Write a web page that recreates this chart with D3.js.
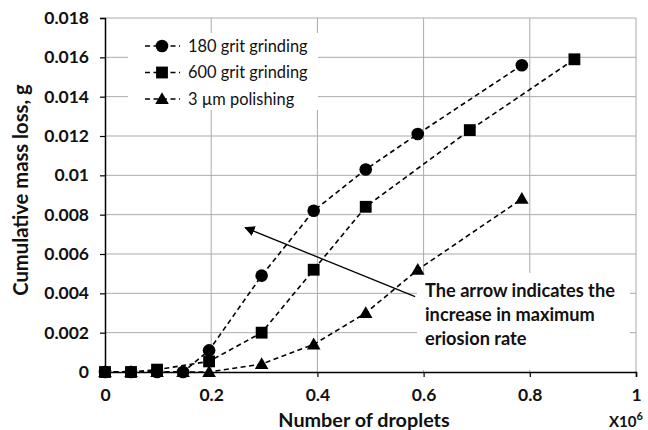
<!DOCTYPE html>
<html><head><meta charset="utf-8">
<script src="https://cdn.jsdelivr.net/npm/d3@7"></script>
<style>
html,body{margin:0;padding:0;background:#fff;}
text{font-family:Lato,"Open Sans",sans-serif;fill:#111;}
</style></head>
<body><svg id="c" width="648" height="430"></svg>
<script>
// Data (x in millions of droplets, y in g)
const x180 = [0, 0.049, 0.098, 0.147, 0.196, 0.295, 0.393, 0.491, 0.589, 0.785];
const y180 = [0, 0, 0, 0, 0.0011, 0.0049, 0.0082, 0.0103, 0.0121, 0.0156];
const x600 = [0, 0.049, 0.098, 0.196, 0.295, 0.393, 0.491, 0.687, 0.884];
const y600 = [0, 0, 0.00012, 0.00054, 0.002, 0.0052, 0.0084, 0.0123, 0.0159];
const xPol = [0, 0.049, 0.098, 0.147, 0.196, 0.295, 0.393, 0.491, 0.589, 0.785];
const yPol = [0, 0, 0, 0, 0, 0.0004, 0.0014, 0.003, 0.0052, 0.0088];
const seriesNames = ["180 grit grinding", "600 grit grinding", "3 \u00b5m polishing"];
const xTicks = [0, 0.2, 0.4, 0.6, 0.8, 1];
const yTicks = [0, 0.002, 0.004, 0.006, 0.008, 0.01, 0.012, 0.014, 0.016, 0.018];
const arrowFrom = [0.584, 0.00383];
const arrowTo = [0.264, 0.00734];
const noteLines = ["The arrow indicates the", "increase in maximum", "eriosion rate"];

const svg = d3.select("#c");
const L = 105, R = 636, T = 18, B = 372;
const x = d3.scaleLinear().domain([0, 1]).range([L, R]);
const y = d3.scaleLinear().domain([0, 0.018]).range([B, T]);

// grid
const g = svg.append("g");
g.selectAll("line.h").data(yTicks.slice(1)).join("line")
  .attr("x1", L).attr("x2", R).attr("y1", d => y(d)).attr("y2", d => y(d))
  .attr("stroke", "#aaa").attr("stroke-width", 1);
g.selectAll("line.v").data(xTicks.slice(1)).join("line")
  .attr("y1", T).attr("y2", B).attr("x1", d => x(d)).attr("x2", d => x(d))
  .attr("stroke", "#aaa").attr("stroke-width", 1);

// white boxes (legend, note)
svg.append("rect").attr("x", 128).attr("y", 33).attr("width", 190).attr("height", 77).attr("fill", "#fff");
svg.append("rect").attr("x", 417).attr("y", 273).attr("width", 213).attr("height", 97).attr("fill", "#fff");

// axes
const xAxis = d3.axisBottom(x).tickValues(xTicks).tickSize(5).tickFormat(d3.format("~g"));
const yAxis = d3.axisLeft(y).tickValues(yTicks).tickSize(5).tickFormat(d => d === 0 ? "0" : d3.format("~g")(d));
const gx = svg.append("g").attr("transform", `translate(0,${B})`).call(xAxis);
const gy = svg.append("g").attr("transform", `translate(${L},0)`).call(yAxis);
[gx, gy].forEach(a => {
  a.select(".domain").attr("stroke", "#000").attr("stroke-width", 1.5);
  a.selectAll(".tick line").attr("stroke", "#000").attr("stroke-width", 1.2);
  a.selectAll(".tick text").attr("font-family", "Lato, sans-serif").attr("font-weight", "bold")
    .attr("font-size", 17.5).attr("fill", "#111");
});
gx.selectAll(".tick text").attr("dy", "0.71em").attr("y", 17);
gy.selectAll(".tick text").attr("x", -16);

// lines
const line = d3.line().x(d => x(d[0])).y(d => y(d[1]));
const s1 = x180.map((v, i) => [v, y180[i]]);
const s2 = x600.map((v, i) => [v, y600[i]]);
const s3 = xPol.map((v, i) => [v, yPol[i]]);
[s3, s1, s2].forEach(s => {
  svg.append("path").datum(s).attr("d", line).attr("fill", "none")
    .attr("stroke", "#000").attr("stroke-width", 1.6).attr("stroke-dasharray", "5,3.5");
});

const sym = {
  circle: d3.symbol().type(d3.symbolCircle).size(125),
  square: d3.symbol().type(d3.symbolSquare).size(140),
  tri: d3.symbol().type(d3.symbolTriangle).size(80)
};
function markers(s, k) {
  svg.append("g").selectAll("path").data(s).join("path")
    .attr("d", sym[k]).attr("transform", d => `translate(${x(d[0])},${y(d[1]) + (k === "tri" ? 1 : 0)})`)
    .attr("fill", "#000");
}
markers(s3, "tri");
markers(s1, "circle");
markers(s2, "square");

// arrow
svg.append("defs").append("marker").attr("id", "ah").attr("viewBox", "0 0 10 10")
  .attr("refX", 9).attr("refY", 5).attr("markerWidth", 8).attr("markerHeight", 8)
  .attr("orient", "auto").append("path").attr("d", "M0,0 L10,5 L0,10 Z").attr("fill", "#000");
svg.append("line").attr("x1", x(arrowFrom[0])).attr("y1", y(arrowFrom[1]))
  .attr("x2", x(arrowTo[0])).attr("y2", y(arrowTo[1]))
  .attr("stroke", "#000").attr("stroke-width", 1.3).attr("marker-end", "url(#ah)");

// note
const note = svg.append("text").attr("font-weight", "bold").attr("font-size", 18.2);
noteLines.forEach((t, i) => note.append("tspan").attr("x", 425).attr("y", 297 + i * 24).text(t));

// legend
const legY = [46, 72.5, 99];
const legK = ["circle", "square", "tri"];
seriesNames.forEach((n, i) => {
  svg.append("line").attr("x1", 145).attr("x2", 180).attr("y1", legY[i]).attr("y2", legY[i])
    .attr("stroke", "#000").attr("stroke-width", 1.6).attr("stroke-dasharray", "5,3.5");
  svg.append("path").attr("d", sym[legK[i]]).attr("transform", `translate(162,${legY[i] + (legK[i] === "tri" ? 1 : 0)})`).attr("fill", "#000");
  svg.append("text").attr("x", 188).attr("y", legY[i]).attr("dy", "0.35em").attr("font-size", 16.4).text(n);
});

// axis titles
svg.append("text").attr("x", 364).attr("y", 427).attr("text-anchor", "middle")
  .attr("font-weight", "bold").attr("font-size", 19.8).text("Number of droplets");
const xt = svg.append("text").attr("x", 609).attr("y", 427).attr("font-weight", "bold").attr("font-size", 15);
xt.append("tspan").text("X10");
xt.append("tspan").attr("dy", -7).attr("font-size", 11).text("6");
svg.append("text").attr("transform", "translate(28,190) rotate(-90)").attr("text-anchor", "middle")
  .attr("font-weight", "bold").attr("font-size", 20.2).text("Cumulative mass loss, g");
</script></body></html>
